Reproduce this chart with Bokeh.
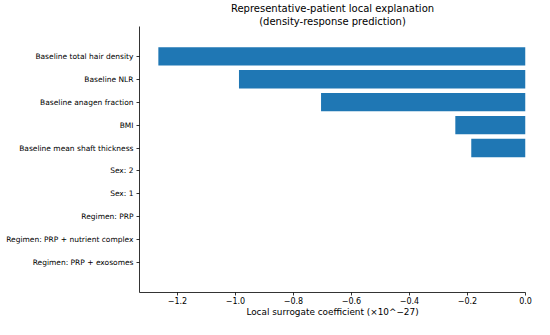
from bokeh.plotting import figure
from bokeh.models import FactorRange, Range1d, FixedTicker, ColumnDataSource, Title
from bokeh.embed import file_html
from bokeh.resources import INLINE

features = ["Baseline total hair density", "Baseline NLR", "Baseline anagen fraction",
            "BMI", "Baseline mean shaft thickness", "Sex: 2", "Sex: 1",
            "Regimen: PRP", "Regimen: PRP + nutrient complex", "Regimen: PRP + exosomes"]
coefs = [-1.266, -0.988, -0.705, -0.242, -0.187, 0.0, 0.0, 0.0, 0.0, 0.0]
xtick_vals = [-1.2, -1.0, -0.8, -0.6, -0.4, -0.2, 0.0]
xtick_labels = ["\u22121.2", "\u22121.0", "\u22120.8", "\u22120.6", "\u22120.4", "\u22120.2", "0.0"]
title_lines = ["Representative-patient local explanation", "(density-response prediction)"]
xlabel = "Local surrogate coefficient (\u00d710^\u221227)"

FONT = "DejaVu Sans"
src = ColumnDataSource(dict(f=features, c=coefs))

p = figure(width=534, height=319, output_backend="svg", toolbar_location=None,
           y_range=FactorRange(factors=list(reversed(features)), range_padding=0.8,
                               range_padding_units="absolute"),
           x_range=Range1d(-1.331, 0.0),
           min_border_left=139, min_border_right=9, min_border_top=4, min_border_bottom=0)

p.hbar(y="f", left=0, right="c", height=0.8, source=src, color="#1f77b4", line_color=None)

for i, line in enumerate(reversed(title_lines)):
    t = Title(text=line, align="center", text_font=FONT, text_font_size="10px",
              text_font_style="normal", text_color="#000000",
              offset=0, standoff=0)
    t.text_line_height = 1.0
    p.add_layout(t, "above")

p.xgrid.visible = False
p.ygrid.visible = False
p.outline_line_color = None

for ax in (p.xaxis[0], p.yaxis[0]):
    ax.axis_line_color = "#000000"
    ax.axis_line_width = 0.8
    ax.major_tick_line_color = "#000000"
    ax.major_tick_line_width = 0.8
    ax.major_tick_out = 3
    ax.major_tick_in = 0
    ax.minor_tick_line_color = None
    ax.major_label_text_font = FONT
    ax.major_label_text_color = "#000000"
    ax.major_label_standoff = 3

p.yaxis.major_label_text_font_size = "7.5px"
p.xaxis.major_label_text_font_size = "8px"
p.xaxis.major_label_standoff = 1
p.xaxis.major_label_text_line_height = 1.0
p.xaxis.ticker = FixedTicker(ticks=xtick_vals)
p.xaxis.major_label_overrides = {v: l for v, l in zip(xtick_vals, xtick_labels)}
p.xaxis.axis_label = xlabel
p.xaxis.axis_label_text_font = FONT
p.xaxis.axis_label_text_font_size = "8.9px"
p.xaxis.axis_label_text_font_style = "normal"
p.xaxis.axis_label_text_color = "#000000"
p.xaxis.axis_label_text_line_height = 1.0
p.xaxis.axis_label_standoff = 0

open("out.html", "w").write(file_html(p, INLINE))
